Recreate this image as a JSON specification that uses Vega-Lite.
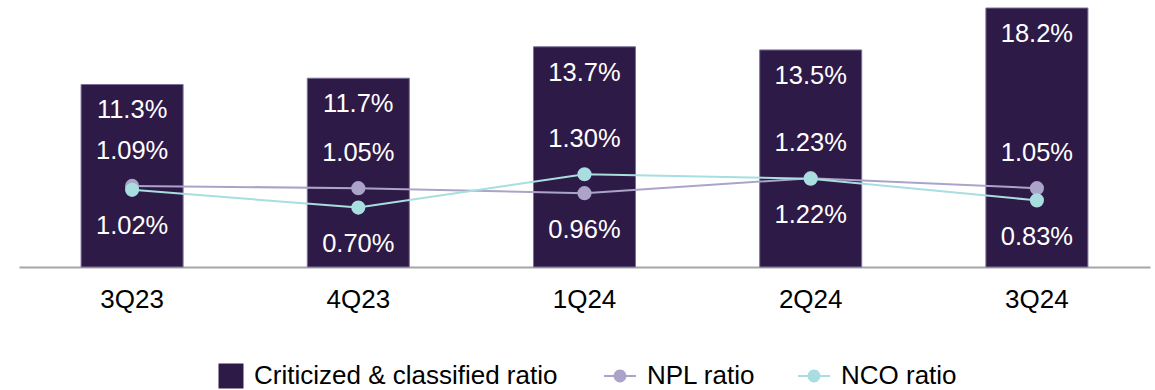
{
  "$schema": "https://vega.github.io/schema/vega-lite/v6.json",
  "width": 1131,
  "height": 259,
  "autosize": {"type": "none"},
  "padding": {"left": 19, "top": 8, "right": 5, "bottom": 123},
  "background": "white",
  "config": {
    "view": {"stroke": null},
    "font": "Liberation Sans",
    "text": {"font": "Liberation Sans"},
    "legend": {
      "orient": "none",
      "direction": "horizontal",
      "padding": 0,
      "symbolOpacity": 1,
      "labelFont": "Liberation Sans",
      "labelFontSize": 26,
      "labelColor": "#000000",
      "labelLimit": 500
    }
  },
  "data": {
    "values": [
      {"quarter": "3Q23", "series": "Criticized & classified ratio", "value": 0.113},
      {"quarter": "4Q23", "series": "Criticized & classified ratio", "value": 0.117},
      {"quarter": "1Q24", "series": "Criticized & classified ratio", "value": 0.137},
      {"quarter": "2Q24", "series": "Criticized & classified ratio", "value": 0.135},
      {"quarter": "3Q24", "series": "Criticized & classified ratio", "value": 0.182},
      {"quarter": "3Q23", "series": "NPL ratio", "value": 0.0109},
      {"quarter": "4Q23", "series": "NPL ratio", "value": 0.0105},
      {"quarter": "1Q24", "series": "NPL ratio", "value": 0.0096},
      {"quarter": "2Q24", "series": "NPL ratio", "value": 0.0123},
      {"quarter": "3Q24", "series": "NPL ratio", "value": 0.0105},
      {"quarter": "3Q23", "series": "NCO ratio", "value": 0.0102},
      {"quarter": "4Q23", "series": "NCO ratio", "value": 0.0070},
      {"quarter": "1Q24", "series": "NCO ratio", "value": 0.0130},
      {"quarter": "2Q24", "series": "NCO ratio", "value": 0.0122},
      {"quarter": "3Q24", "series": "NCO ratio", "value": 0.0083}
    ]
  },
  "encoding": {
    "x": {
      "field": "quarter",
      "type": "nominal",
      "sort": null,
      "title": null,
      "scale": {"paddingInner": 0.549, "paddingOuter": 0.2745},
      "axis": {
        "ticks": false,
        "grid": false,
        "labelAngle": 0,
        "labelFontSize": 26,
        "labelColor": "#000000",
        "labelPadding": 19,
        "domainColor": "#a6a6a6",
        "domainWidth": 2
      }
    }
  },
  "layer": [
    {
      "transform": [{"filter": "datum.series === 'Criticized & classified ratio'"}],
      "encoding": {
        "y": {
          "field": "value",
          "type": "quantitative",
          "scale": {"domain": [-0.0032, 0.1617], "clamp": true, "zero": false, "nice": false},
          "axis": null
        }
      },
      "layer": [
        {
          "mark": {"type": "bar", "stroke": "#7d6f9a", "strokeWidth": 1},
          "encoding": {
            "y2": {"datum": -0.0032},
            "color": {
              "field": "series",
              "type": "nominal",
              "scale": {"domain": ["Criticized & classified ratio"], "range": ["#2e1a47"]},
              "legend": {
                "title": null,
                "legendX": 199,
                "legendY": 355,
                "symbolType": "square",
                "symbolSize": 625,
                "symbolStrokeWidth": 0,
                "labelOffset": 10
              }
            }
          }
        },
        {
          "mark": {"type": "text", "color": "white", "fontSize": 25.5, "baseline": "middle", "dy": 26},
          "encoding": {"text": {"field": "value", "format": ".1%"}}
        }
      ]
    },
    {
      "transform": [{"filter": "datum.series !== 'Criticized & classified ratio'"}],
      "encoding": {
        "y": {
          "field": "value",
          "type": "quantitative",
          "scale": {"domain": [-0.00369, 0.04292], "zero": false, "nice": false},
          "axis": null
        }
      },
      "layer": [
        {
          "mark": {"type": "line", "strokeWidth": 2},
          "encoding": {
            "stroke": {
              "field": "series",
              "type": "nominal",
              "scale": {"domain": ["NPL ratio", "NCO ratio"], "range": ["#aca4c8", "#a8dedf"]},
              "legend": null
            }
          }
        },
        {
          "mark": {"type": "circle", "size": 200, "opacity": 1},
          "encoding": {
            "color": {
              "field": "series",
              "type": "nominal",
              "scale": {"domain": ["NPL ratio", "NCO ratio"], "range": ["#aca4c8", "#a8dedf"]},
              "legend": {
                "title": null,
                "legendX": 585,
                "legendY": 352,
                "symbolType": "M-1,-0.065H-0.38V0.065H-1Z M0.38,-0.065H1V0.065H0.38Z M-0.4,0A0.4,0.4 0 1,1 0.4,0A0.4,0.4 0 1,1 -0.4,0Z",
                "symbolSize": 1024,
                "symbolStrokeWidth": 0,
                "labelOffset": 11,
                "columnPadding": 42
              }
            }
          }
        },
        {
          "transform": [
            {"joinaggregate": [{"op": "max", "field": "value", "as": "top"}], "groupby": ["quarter"]},
            {"filter": "datum.value === datum.top"}
          ],
          "mark": {"type": "text", "color": "white", "fontSize": 25.5, "baseline": "middle", "dy": -35},
          "encoding": {"text": {"field": "value", "format": ".2%"}}
        },
        {
          "transform": [
            {"joinaggregate": [{"op": "max", "field": "value", "as": "top"}], "groupby": ["quarter"]},
            {"filter": "datum.value < datum.top"}
          ],
          "mark": {"type": "text", "color": "white", "fontSize": 25.5, "baseline": "middle", "dy": 36.5},
          "encoding": {"text": {"field": "value", "format": ".2%"}}
        }
      ]
    }
  ],
  "resolve": {
    "scale": {"y": "independent", "color": "independent"},
    "legend": {"color": "independent"}
  }
}
